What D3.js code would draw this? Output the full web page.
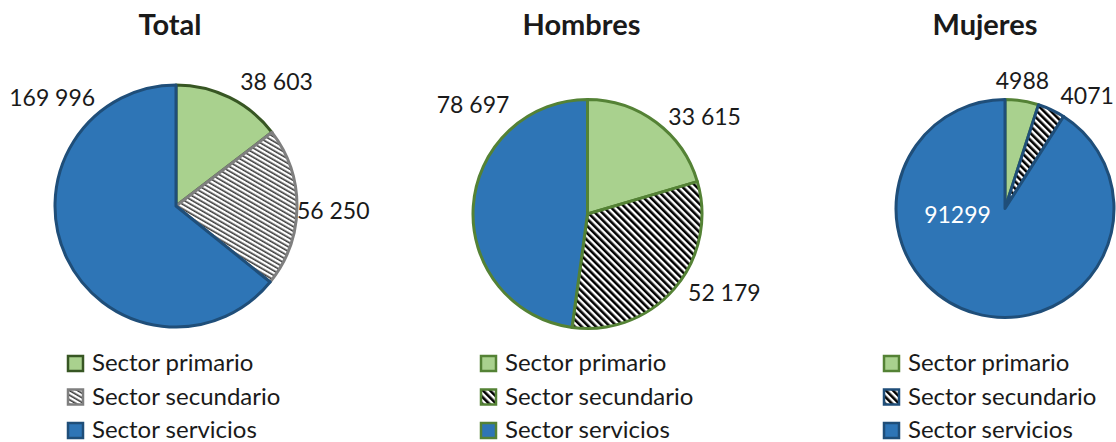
<!DOCTYPE html>
<html lang="es">
<head>
    <meta charset="UTF-8">
    <title>Ocupados por sector</title>
    <style>
        body { margin: 0; background: #fff; }
        text { font-family: Lato, "Open Sans", sans-serif; fill: #1a1a1a; }
    </style>
</head>
<body>
<script src="https://cdn.jsdelivr.net/npm/d3@7"></script>
<script>
    const width = 1116;
    const height = 442;

    // data
    const sectores = ["Sector primario", "Sector secundario", "Sector servicios"];
    const grupos = ["Total", "Hombres", "Mujeres"];
    const total = [38603, 56250, 169996];
    const hombres = [33615, 52179, 78697];
    const mujeres = [4988, 4071, 91299];

    // layout of each pie (centre, radius, legend column) - kept apart from the data
    const layout = [
        {cx: 176, cy: 206, r: 121, titleX: 170, legendX: 68,
         strokes: ["#375623", "#7f7f7f", "#1f4e79"], hatch: "hatchThin", spaced: true,
         labelPos: [[39, 1.32], [91.6, 1.30], [311.2, 1.36]], labelFill: ["#1a1a1a", "#1a1a1a", "#1a1a1a"]},
        {cx: 587.5, cy: 214, r: 114.5, titleX: 581.5, legendX: 481,
         strokes: ["#548235", "#548235", "#548235"], hatch: "hatchWide", spaced: true,
         labelPos: [[50.3, 1.33], [120, 1.38], [313.6, 1.38]], labelFill: ["#1a1a1a", "#1a1a1a", "#1a1a1a"]},
        {cx: 1005, cy: 208.5, r: 109, titleX: 985, legendX: 884,
         strokes: ["#548235", "#1f4e79", "#1f4e79"], hatch: "hatchWide", spaced: false,
         labelPos: [[7.8, 1.18], [36.1, 1.28], [262.2, 0.44]], labelFill: ["#1a1a1a", "#1a1a1a", "#ffffff"]}
    ];
    const series = [total, hombres, mujeres];

    const svg = d3.select("body")
        .append("svg")
        .attr("width", width)
        .attr("height", height);

    svg.append("rect").attr("width", width).attr("height", height).attr("fill", "#fff");

    // hatch patterns for the secondary sector
    const defs = svg.append("defs");
    const thin = defs.append("pattern")
        .attr("id", "hatchThin")
        .attr("patternUnits", "userSpaceOnUse")
        .attr("width", 4).attr("height", 4)
        .attr("patternTransform", "rotate(-60)");
    thin.append("rect").attr("width", 4).attr("height", 4).attr("fill", "#fff");
    thin.append("rect").attr("width", 1.6).attr("height", 4).attr("fill", "#3a3a3a");

    const wide = defs.append("pattern")
        .attr("id", "hatchWide")
        .attr("patternUnits", "userSpaceOnUse")
        .attr("width", 5).attr("height", 5)
        .attr("patternTransform", "rotate(-45)");
    wide.append("rect").attr("width", 5).attr("height", 5).attr("fill", "#fff");
    wide.append("rect").attr("width", 2.6).attr("height", 5).attr("fill", "#000");

    const fmtSpaced = d3.formatLocale({decimal: ",", thousands: " ", grouping: [3], currency: ["", ""]}).format(",d");
    const fmtPlain = d3.format("d");

    const pie = d3.pie().sort(null).value(d => d);

    grupos.forEach((g, i) => {
        const L = layout[i];
        const fills = ["#a9d18e", `url(#${L.hatch})`, "#2e75b6"];
        const arc = d3.arc().innerRadius(0).outerRadius(L.r);
        const arcs = pie(series[i]);
        const chart = svg.append("g");

        chart.append("text")
            .attr("x", L.titleX)
            .attr("y", 35)
            .attr("text-anchor", "middle")
            .attr("font-weight", "bold")
            .attr("font-size", 29)
            .text(g);

        const pieG = chart.append("g").attr("transform", `translate(${L.cx},${L.cy})`);
        pieG.selectAll("path")
            .data(arcs)
            .enter().append("path")
            .attr("d", arc)
            .attr("fill", (d, j) => fills[j])
            .attr("stroke", (d, j) => L.strokes[j])
            .attr("stroke-width", 3)
            .attr("stroke-linejoin", "round");

        const fmt = L.spaced ? fmtSpaced : fmtPlain;
        pieG.selectAll(".lbl")
            .data(arcs)
            .enter().append("text")
            .attr("class", "lbl")
            .attr("transform", (d, j) => {
                const a = L.labelPos[j][0] * Math.PI / 180;
                const k = L.labelPos[j][1] * L.r;
                const c = d3.arc().innerRadius(k).outerRadius(k).centroid({startAngle: a, endAngle: a});
                return `translate(${c[0]},${c[1]})`;
            })
            .attr("text-anchor", "middle")
            .attr("dy", "0.36em")
            .attr("font-size", 23)
            .style("fill", (d, j) => L.labelFill[j])
            .text(d => fmt(d.value));

        // legend
        const legend = chart.append("g")
            .selectAll("g")
            .data(sectores)
            .enter().append("g")
            .attr("transform", (d, j) => `translate(${L.legendX},${371 + j * 33.5})`);

        legend.append("rect")
            .attr("x", 0)
            .attr("y", -15)
            .attr("width", 15)
            .attr("height", 15)
            .attr("fill", (d, j) => fills[j])
            .attr("stroke", (d, j) => L.strokes[j])
            .attr("stroke-width", 2.5);

        legend.append("text")
            .attr("x", 24)
            .attr("y", 0)
            .attr("font-size", 24)
            .text(d => d);
    });
</script>
</body>
</html>
